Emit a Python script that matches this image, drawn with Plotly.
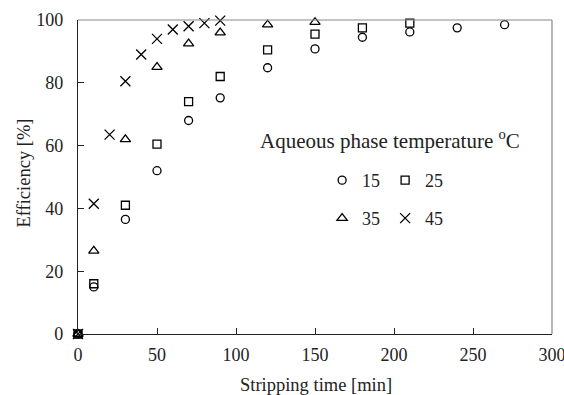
import plotly.graph_objects as go

# Data
t15 = [0, 10, 30, 50, 70, 90, 120, 150, 180, 210, 240, 270]
e15 = [0, 15, 36.5, 52, 68, 75.2, 84.8, 90.8, 94.5, 96.2, 97.5, 98.5]
t25 = [0, 10, 30, 50, 70, 90, 120, 150, 180, 210]
e25 = [0, 16, 41, 60.5, 74, 82, 90.5, 95.5, 97.5, 99]
t35 = [0, 10, 30, 50, 70, 90, 120, 150]
e35 = [0, 26.5, 62, 85, 92.5, 96, 98.5, 99.3]
t45 = [0, 10, 20, 30, 40, 50, 60, 70, 80, 90]
e45 = [0, 41.5, 63.5, 80.5, 89, 94, 97, 98, 99, 99.8]

xticks = [0, 50, 100, 150, 200, 250, 300]
yticks = [0, 20, 40, 60, 80, 100]

FONT = "Liberation Serif"

series = [
    ("15", t15, e15, "circle-open", 8, "legend"),
    ("25", t25, e25, "square-open", 8, "legend"),
    ("35", t35, e35, "triangle-up-open", 9, "legend2"),
    ("45", t45, e45, "x-thin-open", 10, "legend2"),
]

fig = go.Figure()
for name, x, y, sym, size, lg in series:
    fig.add_trace(go.Scatter(
        x=x, y=y, mode="markers", name=name, legend=lg,
        marker=dict(symbol=sym, size=size, color="black",
                    line=dict(color="black", width=1.3)),
        cliponaxis=False,
    ))

axis_common = dict(
    showgrid=False, zeroline=False, showline=True, linecolor="#222",
    linewidth=1.2, ticks="inside", ticklen=6, tickcolor="#222",
    tickfont=dict(family=FONT, size=18, color="#222"),
    automargin=False, ticklabeloverflow="allow",
)

leg_common = dict(orientation="h", xanchor="left", yanchor="middle",
                  font=dict(family=FONT, size=18, color="#222"),
                  bgcolor="rgba(0,0,0,0)", entrywidth=18, itemwidth=30,
                  tracegroupgap=0)

txt = dict(family=FONT, color="#222")

fig.update_layout(
    width=564, height=395,
    margin=dict(l=78, r=12, t=20, b=61),
    paper_bgcolor="white", plot_bgcolor="white",
    font=dict(family=FONT, color="#222"),
    xaxis=dict(range=[0, 300], tickvals=xticks, **axis_common, ticklabelstandoff=4),
    yaxis=dict(range=[0, 100], tickvals=yticks, **axis_common, ticklabelstandoff=10),
    legend=dict(x=0.515, y=0.489, **leg_common),
    legend2=dict(x=0.515, y=0.368, **leg_common),
    annotations=[
        dict(text="Aqueous phase temperature <sup>o</sup>C", xref="paper", yref="paper",
             x=0.38, y=0.62, xanchor="left", yanchor="middle", showarrow=False,
             font=dict(size=21, **txt)),
        dict(text="Stripping time [min]", xref="paper", yref="paper",
             x=0.502, y=-0.164, xanchor="center", yanchor="middle", showarrow=False,
             font=dict(size=18.5, **txt)),
        dict(text="Efficiency [%]", xref="paper", yref="paper", textangle=-90,
             x=-0.114, y=0.514, xanchor="center", yanchor="middle", showarrow=False,
             font=dict(size=18.5, **txt)),
    ],
    shapes=[
        dict(type="line", xref="paper", yref="paper", x0=0, x1=1, y0=1, y1=1,
             line=dict(color="#888", width=1.2)),
        dict(type="line", xref="paper", yref="paper", x0=1, x1=1, y0=0, y1=1,
             line=dict(color="#888", width=1.2)),
    ],
)

fig.write_html("out.html")
